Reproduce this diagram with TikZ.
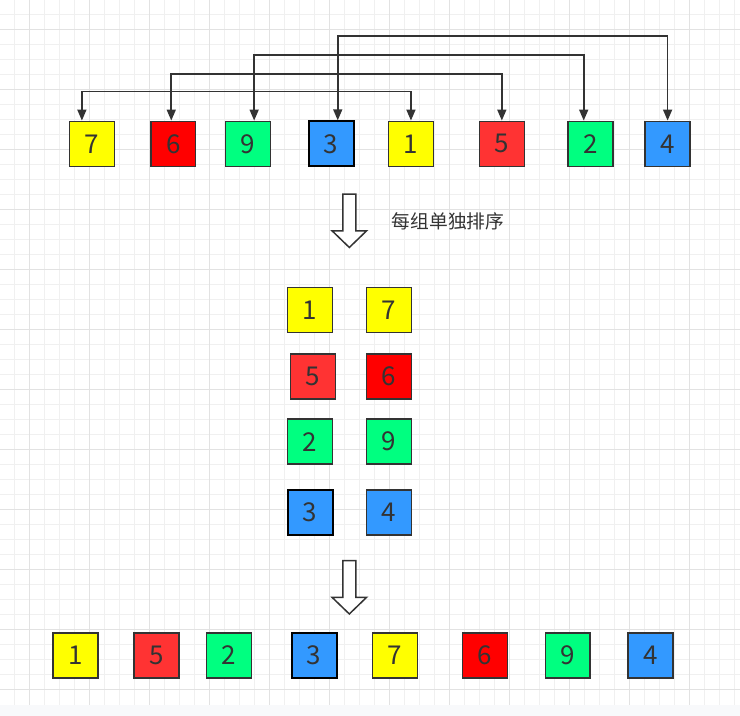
\documentclass[tikz,border=0pt]{standalone}
\usepackage{fontspec}
\setmainfont{Noto Sans CJK SC}
\usetikzlibrary{arrows.meta}

\definecolor{ink}{HTML}{333333}
\definecolor{yel}{HTML}{FFFF00}
\definecolor{redA}{HTML}{FF0000}
\definecolor{redB}{HTML}{FF3333}
\definecolor{grn}{HTML}{00FF80}
\definecolor{blu}{HTML}{3399FF}
\definecolor{gridminor}{HTML}{F0F0F0}
\definecolor{gridmajor}{HTML}{E2E2E2}
\definecolor{band}{HTML}{F8F9FB}

\tikzset{
    sortarrow/.pic={
        \draw[ink, line width=1.5pt, fill=white, line join=miter]
            (-6.5,0) -- (6.5,0) -- (6.5,36.7) -- (17.2,36.7) -- (0,53.3)
            -- (-17.2,36.7) -- (-6.5,36.7) -- cycle;
    },
}

\begin{document}
\begin{tikzpicture}[
        x=1pt, y=-1pt,
        every node/.style={draw=ink, line width=1.5pt, minimum size=45pt, inner sep=0pt,
            text=ink, font=\fontsize{26}{26}\selectfont},
        y1/.style={fill=yel},
        r1/.style={fill=redA},
        r2/.style={fill=redB},
        g1/.style={fill=grn},
        b1/.style={fill=blu},
        dark/.style={fill=blu, draw=black, line width=2pt},
        note/.style={draw=none, minimum size=0pt, font=\fontsize{18.8}{18.8}\selectfont},
        link/.style={draw=ink, line width=1.6pt,
            {Triangle[length=11pt,width=9pt]}-{Triangle[length=11pt,width=9pt]}},
    ]
    % background grid
    \fill[band] (0,0) rectangle (740,716);
    \fill[white] (0,0) rectangle (740,705);
    \foreach \x in {15,30,...,735}
        \draw[gridminor, line width=1pt] (\x-0.5,0) -- (\x-0.5,705);
    \foreach \y in {15,30,...,690}
        \draw[gridminor, line width=1pt] (0,\y-0.5) -- (740,\y-0.5);
    \foreach \x in {30,90,...,690}
        \draw[gridmajor, line width=1pt] (\x-0.5,0) -- (\x-0.5,705);
    \foreach \y in {30,90,...,690}
        \draw[gridmajor, line width=1pt] (0,\y-0.5) -- (740,\y-0.5);

    % first row
    \node[y1](t7) at (91.5,143.5){7};
    \node[r1](t6) at (173,143.5){6};
    \node[g1](t9) at (248,143.5){9};
    \node[dark](t3) at (331,143.5){3};
    \node[y1](t1) at (411,143.5){1};
    \node[r2](t5) at (502,143.5){5};
    \node[g1](t2) at (591,143.5){2};
    \node[b1](t4) at (668,143.5){4};

    \draw[link] ([xshift=-10pt]t7.north) -- ++(0,-29.3) -| (t1.north);
    \draw[link] ([xshift=-2pt]t6.north) -- ++(0,-46.7) -| (t5.north);
    \draw[link] ([xshift=6pt]t9.north) -- ++(0,-65.7) -| ([xshift=-7pt]t2.north);
    \draw[link] ([xshift=6.7pt]t3.north) -- ++(0,-84.3) -| (t4.north);

    \pic at (349.3,194) {sortarrow};
    \node[note, anchor=west](tip) at (391,221){每组单独排序};

    % groups
    \node[y1](m1) at (310,310){1};
    \node[y1](m7) at (389,310){7};
    \node[r2](m5) at (312.7,376.7){5};
    \node[r1](m6) at (389,376.7){6};
    \node[g1](m2) at (310,441.7){2};
    \node[g1](m9) at (389,441.7){9};
    \node[dark](m3) at (310,512.7){3};
    \node[b1](m4) at (389,512.7){4};

    \pic at (349.3,561) {sortarrow};

    % last row
    \node[y1](b1) at (75,655.7){1};
    \node[r2](b5) at (156,655.7){5};
    \node[g1](b2) at (229,655.7){2};
    \node[dark](b3) at (314,655.7){3};
    \node[y1](b7) at (395,655.7){7};
    \node[r1](b6) at (485,655.7){6};
    \node[g1](b9) at (568,655.7){9};
    \node[b1](b4) at (651,655.7){4};
\end{tikzpicture}
\end{document}
